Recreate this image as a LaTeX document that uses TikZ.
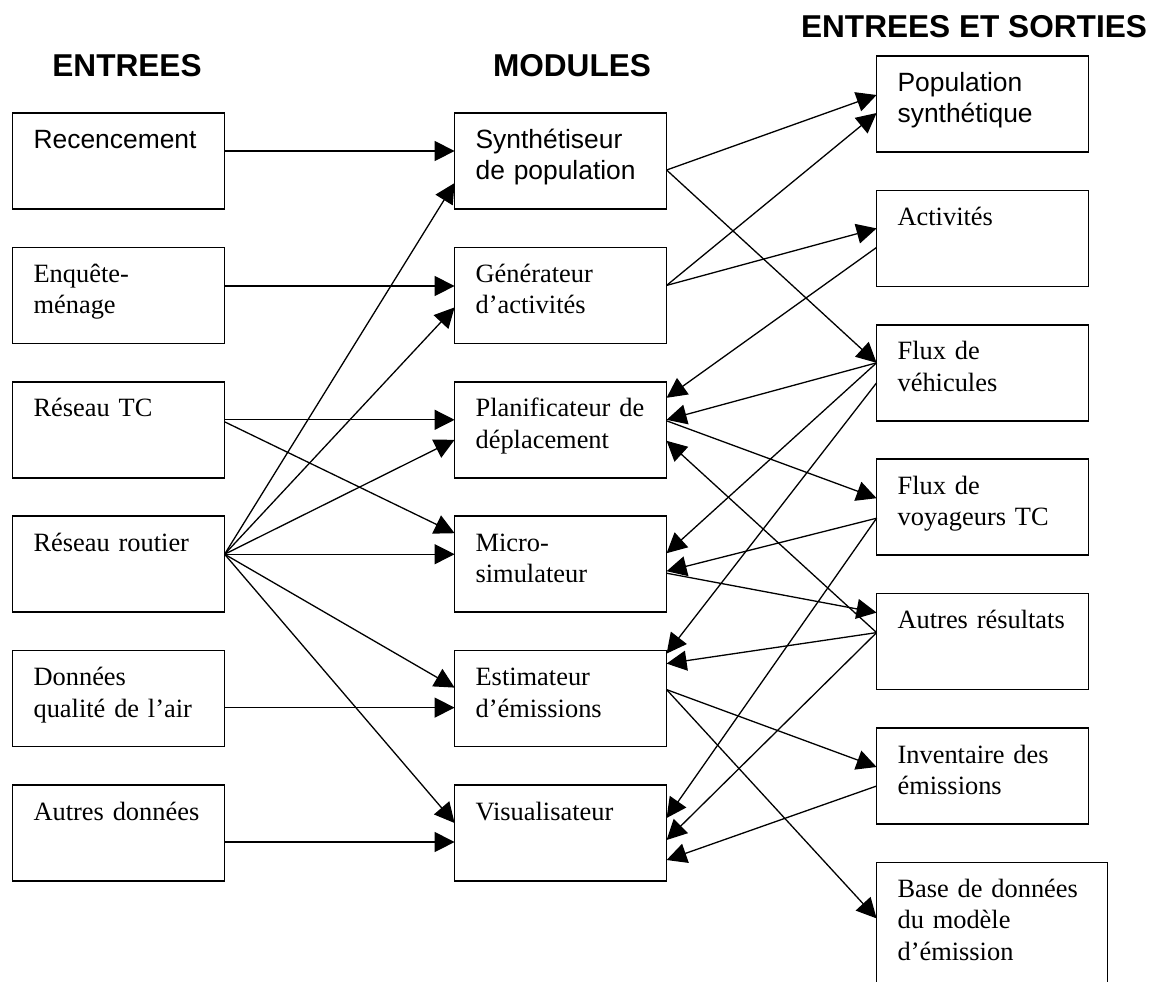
\documentclass[tikz,border=0pt]{standalone}
\usepackage{fontspec}
\setmainfont{Liberation Serif}
\newfontfamily\helv{Liberation Sans}
\usetikzlibrary{arrows.meta,positioning}
\tikzset{
	%style des cadres
	cadre/.style={
		rectangle,
		draw=black, line width=0.8pt,
		outer sep=0pt,
		inner xsep=10.5pt, inner ysep=0pt,
		text width=85pt,
		text height=17.5pt, text depth=30.5pt,
		align=left,
		font=\fontsize{13.2}{15.75}\selectfont},
	sans/.style={font=\helv\fontsize{13.2}{15.75}\selectfont},
	titre/.style={anchor=base, font=\helv\bfseries\fontsize{15.8}{19}\selectfont}
}

\begin{document}
\begin{tikzpicture}[x=0.5pt, y=-0.5pt, >={Triangle[length=10pt,width=10pt]},
	line width=0.65pt, node distance=19.2pt and 115pt]
	\useasboundingbox (0,0) rectangle (1156,981);
	% titres
	\node[titre] (tentrees) at (127,76) {ENTREES};
	\node[titre] (tmodules) at (572,76) {MODULES};
	\node[titre] (tsorties) at (974,37) {ENTREES ET SORTIES};
	% entrees
	\node[cadre, sans, anchor=north west] (rec) at (12.6,113) {Recencement};
	\node[cadre, below=of rec] (enq) {Enquête-\\ménage};
	\node[cadre, below=of enq] (tc) {Réseau TC};
	\node[cadre, below=of tc] (routier) {Réseau routier};
	\node[cadre, below=of routier] (donnees) {Données\\qualité de l’air};
	\node[cadre, below=of donnees] (autres) {Autres données};
	% modules
	\node[cadre, sans, right=of rec] (syn) {Synthétiseur\\de population};
	\node[cadre, below=of syn] (gen) {Générateur\\d’activités};
	\node[cadre, below=of gen] (plan) {Planificateur de\\déplacement};
	\node[cadre, below=of plan] (micro) {Micro-\\simulateur};
	\node[cadre, below=of micro] (estim) {Estimateur\\d’émissions};
	\node[cadre, below=of estim] (visu) {Visualisateur};
	% entrees et sorties
	\node[cadre, sans, anchor=north west] (pop) at (876.6,56) {Population\\synthétique};
	\node[cadre, below=of pop] (act) {Activités};
	\node[cadre, below=of act] (fluxveh) {Flux de\\véhicules};
	\node[cadre, below=of fluxveh] (fluxvoy) {Flux de\\voyageurs TC};
	\node[cadre, below=of fluxvoy] (resu) {Autres résultats};
	\node[cadre, below=of resu] (inv) {Inventaire des\\émissions};
	\node[cadre, below=of inv.south west, anchor=north west, text width=94.5pt, text depth=45pt] (base) {Base de données\\du modèle\\d’émission};

	% entrees vers modules
	\draw[->] ([yshift=5pt]rec.east) -- ([yshift=5pt]syn.west);
	\draw[->] ([yshift=4.7pt]enq.east) -- ([yshift=4.7pt]gen.west);
	\draw[->] ([yshift=5pt]tc.east) -- ([yshift=5pt]plan.west);
	\draw[->] ([yshift=4pt]tc.east) -- ([yshift=15.5pt]micro.west);
	\foreach \cible/\dy in {syn/-11pt, gen/-6pt, plan/-5pt, micro/5pt, estim/5.5pt, visu/5pt}
		\draw[->] ([yshift=5pt]routier.east) -- ([yshift=\dy]\cible.west);
	\draw[->] ([yshift=-4.5pt]donnees.east) -- ([yshift=-4.5pt]estim.west);
	\draw[->] ([yshift=-4.5pt]autres.east) -- ([yshift=-4.5pt]visu.west);

	% modules vers sorties
	\draw[->] ([yshift=-4.5pt]syn.east) -- ([yshift=4.5pt]pop.west);
	\draw[->] ([yshift=-4.5pt]syn.east) -- ([yshift=5pt]fluxveh.west);
	\draw[->] ([yshift=5pt]gen.east) -- ([yshift=-4.5pt]pop.west);
	\draw[->] ([yshift=5pt]gen.east) -- ([yshift=5pt]act.west);
	\draw[->] ([yshift=4.5pt]plan.east) -- ([yshift=4.5pt]fluxvoy.west);
	\draw[->] ([yshift=-4.5pt]micro.east) -- ([yshift=14.5pt]resu.west);
	\draw[->] ([yshift=4.5pt]estim.east) -- ([yshift=4.5pt]inv.west);
	\draw[->] ([yshift=4.5pt]estim.east) -- ([yshift=-28pt]base.north west);

	% sorties vers modules
	\draw[->] ([yshift=-4.5pt]act.west) -- ([yshift=16pt]plan.east);
	\draw[->] ([yshift=5pt]fluxveh.west) -- ([yshift=5pt]plan.east);
	\draw[->] ([yshift=5pt]fluxveh.west) -- ([yshift=5.5pt]micro.east);
	\draw[->] ([yshift=-5pt]fluxveh.west) -- ([yshift=22.5pt]estim.east);
	\draw[->] ([yshift=-5.5pt]fluxvoy.west) -- ([yshift=-3.5pt]micro.east);
	\draw[->] ([yshift=-5.5pt]fluxvoy.west) -- ([yshift=7.5pt]visu.east);
	\draw[->] ([yshift=4.5pt]resu.west) -- ([yshift=-5.5pt]plan.east);
	\draw[->] ([yshift=4.5pt]resu.west) -- ([yshift=17.5pt]estim.east);
	\draw[->] ([yshift=4.5pt]resu.west) -- ([yshift=-3.5pt]visu.east);
	\draw[->] ([yshift=-5pt]inv.west) -- ([yshift=-13.5pt]visu.east);
\end{tikzpicture}
\end{document}
